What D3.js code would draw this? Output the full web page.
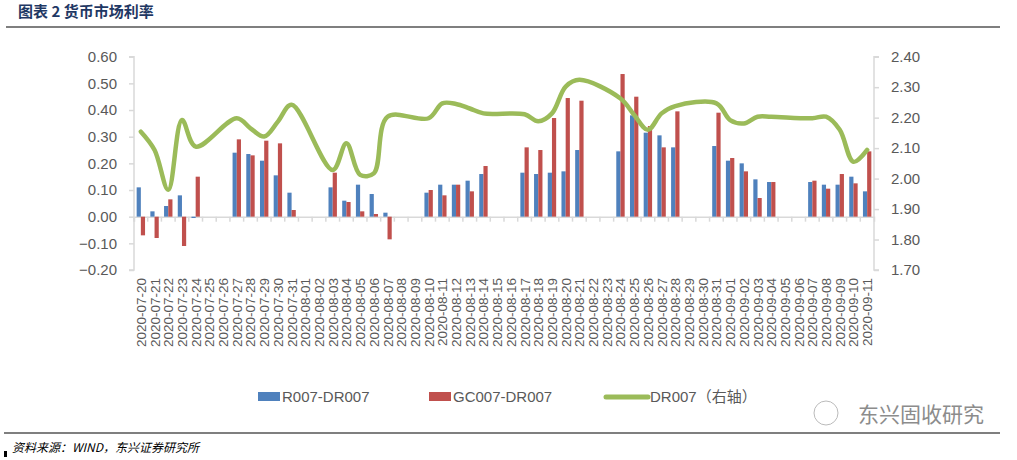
<!DOCTYPE html>
<html>
<head>
<meta charset="utf-8">
<script src="https://cdn.jsdelivr.net/npm/d3@7"></script>
<style>
  body { margin: 0; background: #fff; }
  text { font-family: "Liberation Sans Narrow", "Liberation Sans", "Noto Sans CJK SC", sans-serif; }
</style>
</head>
<body>
<svg id="chart" width="1017" height="460"></svg>
<script>
// trading days only; weekend categories stay empty
const dates = [
  "2020-07-20","2020-07-21","2020-07-22","2020-07-23","2020-07-24",
  "2020-07-27","2020-07-28","2020-07-29","2020-07-30","2020-07-31",
  "2020-08-03","2020-08-04","2020-08-05","2020-08-06","2020-08-07",
  "2020-08-10","2020-08-11","2020-08-12","2020-08-13","2020-08-14",
  "2020-08-17","2020-08-18","2020-08-19","2020-08-20","2020-08-21",
  "2020-08-24","2020-08-25","2020-08-26","2020-08-27","2020-08-28",
  "2020-08-31","2020-09-01","2020-09-02","2020-09-03","2020-09-04",
  "2020-09-07","2020-09-08","2020-09-09","2020-09-10","2020-09-11"
];
const r007 = [
  0.11,0.02,0.04,0.08,-0.005,
  0.24,0.235,0.21,0.155,0.09,
  0.11,0.06,0.12,0.085,0.015,
  0.09,0.12,0.12,0.135,0.16,
  0.165,0.16,0.165,0.17,0.25,
  0.245,0.38,0.315,0.305,0.26,
  0.265,0.21,0.2,0.14,0.13,
  0.13,0.12,0.12,0.15,0.095
];
const gc007 = [
  -0.07,-0.08,0.065,-0.11,0.15,
  0.29,0.23,0.285,0.275,0.025,
  0.165,0.055,0.02,0.01,-0.085,
  0.10,0.08,0.12,0.095,0.19,
  0.26,0.25,0.37,0.445,0.435,
  0.535,0.45,0.34,0.26,0.395,
  0.39,0.22,0.17,0.07,0.13,
  0.135,0.105,0.16,0.125,0.245
];
const dr007 = [
  2.154,2.094,1.963,2.192,2.105,
  2.198,2.165,2.138,2.187,2.242,
  2.028,2.116,2.012,2.017,2.203,
  2.198,2.247,2.245,2.230,2.214,
  2.211,2.188,2.214,2.302,2.324,
  2.263,2.209,2.160,2.214,2.238,
  2.247,2.192,2.181,2.203,2.203,
  2.198,2.203,2.160,2.055,2.094
];
const leftTicks = [-0.2,-0.1,0,0.1,0.2,0.3,0.4,0.5,0.6];
const rightTicks = [1.7,1.8,1.9,2.0,2.1,2.2,2.3,2.4];

const fmt = d3.timeFormat("%Y-%m-%d");
const allDays = d3.timeDay.range(new Date(2020,6,20), new Date(2020,8,12)).map(fmt);

const svg = d3.select("#chart");
const L = 134, R = 874, T = 56.7, B = 270;

// title
svg.append("text").attr("x", 18).attr("y", 17)
  .attr("fill", "#1f3864").attr("font-size", 15).attr("font-weight", "bold")
  .style("font-family", "'Noto Sans CJK SC', sans-serif")
  .text("图表 2  货币市场利率");
svg.append("line").attr("x1", 6).attr("x2", 1000).attr("y1", 27).attr("y2", 27)
  .attr("stroke", "#000").attr("stroke-width", 1.2);

const x = d3.scaleBand().domain(allDays).range([L, R]);
const yL = d3.scaleLinear().domain([-0.2, 0.6]).range([B, T]);
const yR = d3.scaleLinear().domain([1.7, 2.4]).range([B, T]);

// left axis
const gl = svg.append("g").attr("transform", `translate(${L},0)`)
  .call(d3.axisLeft(yL).tickValues(leftTicks).tickFormat(d3.format(".2f")).tickSize(5).tickPadding(12));
gl.select(".domain").attr("stroke", "#d9d9d9").attr("stroke-width", 1.5).attr("d", `M-5,${T}H0V${B}H-5`);
gl.selectAll(".tick line").attr("stroke", "#d9d9d9").attr("stroke-width", 1.5);
gl.selectAll(".tick text").attr("font-size", 15).attr("fill", "#595959");

// right axis
const gr = svg.append("g").attr("transform", `translate(${R},0)`)
  .call(d3.axisRight(yR).tickValues(rightTicks).tickFormat(d3.format(".2f")).tickSize(5).tickPadding(12));
gr.select(".domain").attr("stroke", "#d9d9d9").attr("stroke-width", 1.5).attr("d", `M5,${T}H0V${B}H5`);
gr.selectAll(".tick line").attr("stroke", "#d9d9d9").attr("stroke-width", 1.5);
gr.selectAll(".tick text").attr("font-size", 15).attr("fill", "#595959");

// x axis at zero
const gx = svg.append("g").attr("transform", `translate(0,${yL(0)})`)
  .call(d3.axisBottom(x).tickSize(5).tickFormat(""));
gx.select(".domain").attr("stroke", "#d9d9d9").attr("stroke-width", 1.5);
gx.selectAll(".tick line").attr("stroke", "#d9d9d9").attr("stroke-width", 1.5)
  .attr("transform", `translate(${-x.bandwidth()/2},0)`);

// rotated date labels
svg.append("g").selectAll("text").data(allDays).join("text")
  .attr("transform", d => `translate(${x(d) + x.bandwidth()/2 + 5},${B + 8}) rotate(-90)`)
  .attr("text-anchor", "end").attr("font-size", 13.5).attr("fill", "#595959")
  .text(d => d);

// bars
const bw = 4.2;
svg.append("g").selectAll("rect").data(dates.map((d,i) => [d, r007[i]])).join("rect")
  .attr("x", d => x(d[0]) + x.bandwidth()/2 - bw)
  .attr("y", d => yL(Math.max(0, d[1])))
  .attr("width", bw)
  .attr("height", d => Math.abs(yL(d[1]) - yL(0)))
  .attr("fill", "#4f81bd");
svg.append("g").selectAll("rect").data(dates.map((d,i) => [d, gc007[i]])).join("rect")
  .attr("x", d => x(d[0]) + x.bandwidth()/2)
  .attr("y", d => yL(Math.max(0, d[1])))
  .attr("width", bw)
  .attr("height", d => Math.abs(yL(d[1]) - yL(0)))
  .attr("fill", "#c0504d");

// DR007 line
svg.append("path")
  .datum(dates.map((d,i) => [d, dr007[i]]))
  .attr("fill", "none").attr("stroke", "#9bbb59").attr("stroke-width", 4.5)
  .attr("stroke-linecap", "round").attr("stroke-linejoin", "round")
  .attr("d", d3.line().curve(d3.curveCatmullRom.alpha(0.5))
    .x(d => x(d[0]) + x.bandwidth()/2).y(d => yR(d[1])));

// legend
const lg = svg.append("g").attr("font-size", 15).attr("fill", "#595959");
lg.append("rect").attr("x", 258).attr("y", 392).attr("width", 22).attr("height", 9).attr("fill", "#4f81bd");
lg.append("text").attr("x", 282).attr("y", 402).text("R007-DR007");
lg.append("rect").attr("x", 429).attr("y", 392).attr("width", 22).attr("height", 9).attr("fill", "#c0504d");
lg.append("text").attr("x", 453).attr("y", 402).text("GC007-DR007");
lg.append("line").attr("x1", 606).attr("x2", 648).attr("y1", 397).attr("y2", 397)
  .attr("stroke", "#9bbb59").attr("stroke-width", 5).attr("stroke-linecap", "round");
lg.append("text").attr("x", 650).attr("y", 402).text("DR007（右轴）");

// watermark
svg.append("text").attr("x", 858).attr("y", 422).attr("font-size", 21).attr("fill", "#8c8c8c")
  .style("font-family", "'Noto Sans CJK SC', sans-serif").text("东兴固收研究");
svg.append("circle").attr("cx", 826).attr("cy", 413).attr("r", 12).attr("fill", "none").attr("stroke", "#bbb");

// footer
svg.append("line").attr("x1", 4).attr("x2", 1000).attr("y1", 433).attr("y2", 433)
  .attr("stroke", "#000").attr("stroke-width", 1.2);
svg.append("rect").attr("x", 4).attr("y", 451).attr("width", 3).attr("height", 6).attr("fill", "#000");
svg.append("text").attr("x", 12).attr("y", 452).attr("font-size", 12).attr("font-style", "italic")
  .attr("fill", "#000").style("font-family", "'Noto Sans CJK SC', sans-serif")
  .text("资料来源：WIND，东兴证券研究所");
</script>
</body>
</html>
